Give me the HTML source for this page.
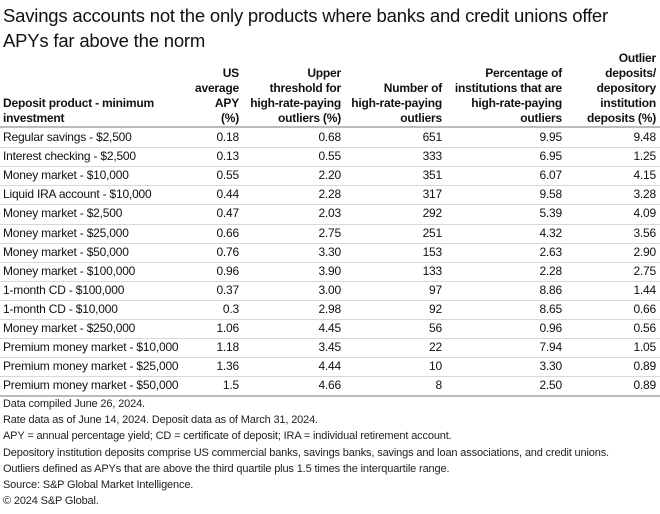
<!DOCTYPE html>
<html><head><meta charset="utf-8"><style>
body{margin:0;width:660px;height:514px;background:#fff;font-family:"Liberation Sans",sans-serif;color:#111;position:relative;overflow:hidden}
.title{position:absolute;left:3px;top:3px;font-size:18.5px;line-height:25px;color:#111;letter-spacing:-0.2px}
.hd{position:absolute;font-size:12px;line-height:15px;font-weight:bold;text-align:right;color:#111;letter-spacing:-0.2px}
.cell{position:absolute;font-size:12px;line-height:19px;white-space:nowrap;letter-spacing:-0.2px}
.rule{position:absolute;left:0;width:660px;height:1px;background:#d8d8d8}
.foot{position:absolute;left:3px;font-size:11px;line-height:16px;white-space:nowrap;color:#222;letter-spacing:-0.15px}
</style></head><body>
<div class="title">Savings accounts not the only products where banks and credit unions offer<br>APYs far above the norm</div>
<div class="hd" style="left:3px;top:96px;text-align:left">Deposit product - minimum<br>investment</div>
<div class="hd" style="right:421px;top:66px">US<br>average<br>APY<br>(%)</div>
<div class="hd" style="right:319px;top:66px">Upper<br>threshold for<br>high-rate-paying<br>outliers (%)</div>
<div class="hd" style="right:218px;top:81px">Number of<br>high-rate-paying<br>outliers</div>
<div class="hd" style="right:98px;top:66px">Percentage of<br>institutions that are<br>high-rate-paying<br>outliers</div>
<div class="hd" style="right:4px;top:51px">Outlier<br>deposits/<br>depository<br>institution<br>deposits (%)</div>
<div class="rule" style="top:126px;height:2px;background:#bbb"></div>
<div id="rows"></div>
<div id="foot"></div>
<script>
const products=["Regular savings - $2,500","Interest checking - $2,500","Money market - $10,000","Liquid IRA account - $10,000","Money market - $2,500","Money market - $25,000","Money market - $50,000","Money market - $100,000","1-month CD - $100,000","1-month CD - $10,000","Money market - $250,000","Premium money market - $10,000","Premium money market - $25,000","Premium money market - $50,000"];
const usAvg=["0.18","0.13","0.55","0.44","0.47","0.66","0.76","0.96","0.37","0.3","1.06","1.18","1.36","1.5"];
const upper=["0.68","0.55","2.20","2.28","2.03","2.75","3.30","3.90","3.00","2.98","4.45","3.45","4.44","4.66"];
const numOut=["651","333","351","317","292","251","153","133","97","92","56","22","10","8"];
const pctOut=["9.95","6.95","6.07","9.58","5.39","4.32","2.63","2.28","8.86","8.65","0.96","7.94","3.30","2.50"];
const depShare=["9.48","1.25","4.15","3.28","4.09","3.56","2.90","2.75","1.44","0.66","0.56","1.05","0.89","0.89"];
const notes=["Data compiled June 26, 2024.","Rate data as of June 14, 2024. Deposit data as of March 31, 2024.","APY = annual percentage yield; CD = certificate of deposit; IRA = individual retirement account.","Depository institution deposits comprise US commercial banks, savings banks, savings and loan associations, and credit unions.","Outliers defined as APYs that are above the third quartile plus 1.5 times the interquartile range.","Source: S&P Global Market Intelligence.","© 2024 S&P Global."];
const cols=[usAvg,upper,numOut,pctOut,depShare];
const rights=[421,319,218,98,4];
const top0=128,rh=19.1;
const R=document.getElementById('rows');
products.forEach((p,i)=>{
  const y=top0+i*rh;
  const a=document.createElement('div');a.className='cell';a.style.left='3px';a.style.top=y+'px';a.textContent=p;
  
  
  R.appendChild(a);
  cols.forEach((c,j)=>{
    const d=document.createElement('div');d.className='cell';d.style.right=rights[j]+'px';d.style.top=y+'px';d.textContent=c[i];
    
    
    R.appendChild(d);
  });
  const r=document.createElement('div');r.className='rule';
  r.style.top=(y+rh)+'px';
  if(i===products.length-1){r.style.height='2px';r.style.background='#bbb';}
  
  
  R.appendChild(r);
});
const F=document.getElementById('foot');
notes.forEach((n,i)=>{
  const d=document.createElement('div');d.className='foot';d.style.top=(396+i*16.2)+'px';d.textContent=n;
  
  
  F.appendChild(d);
});
</script>
</body></html>
